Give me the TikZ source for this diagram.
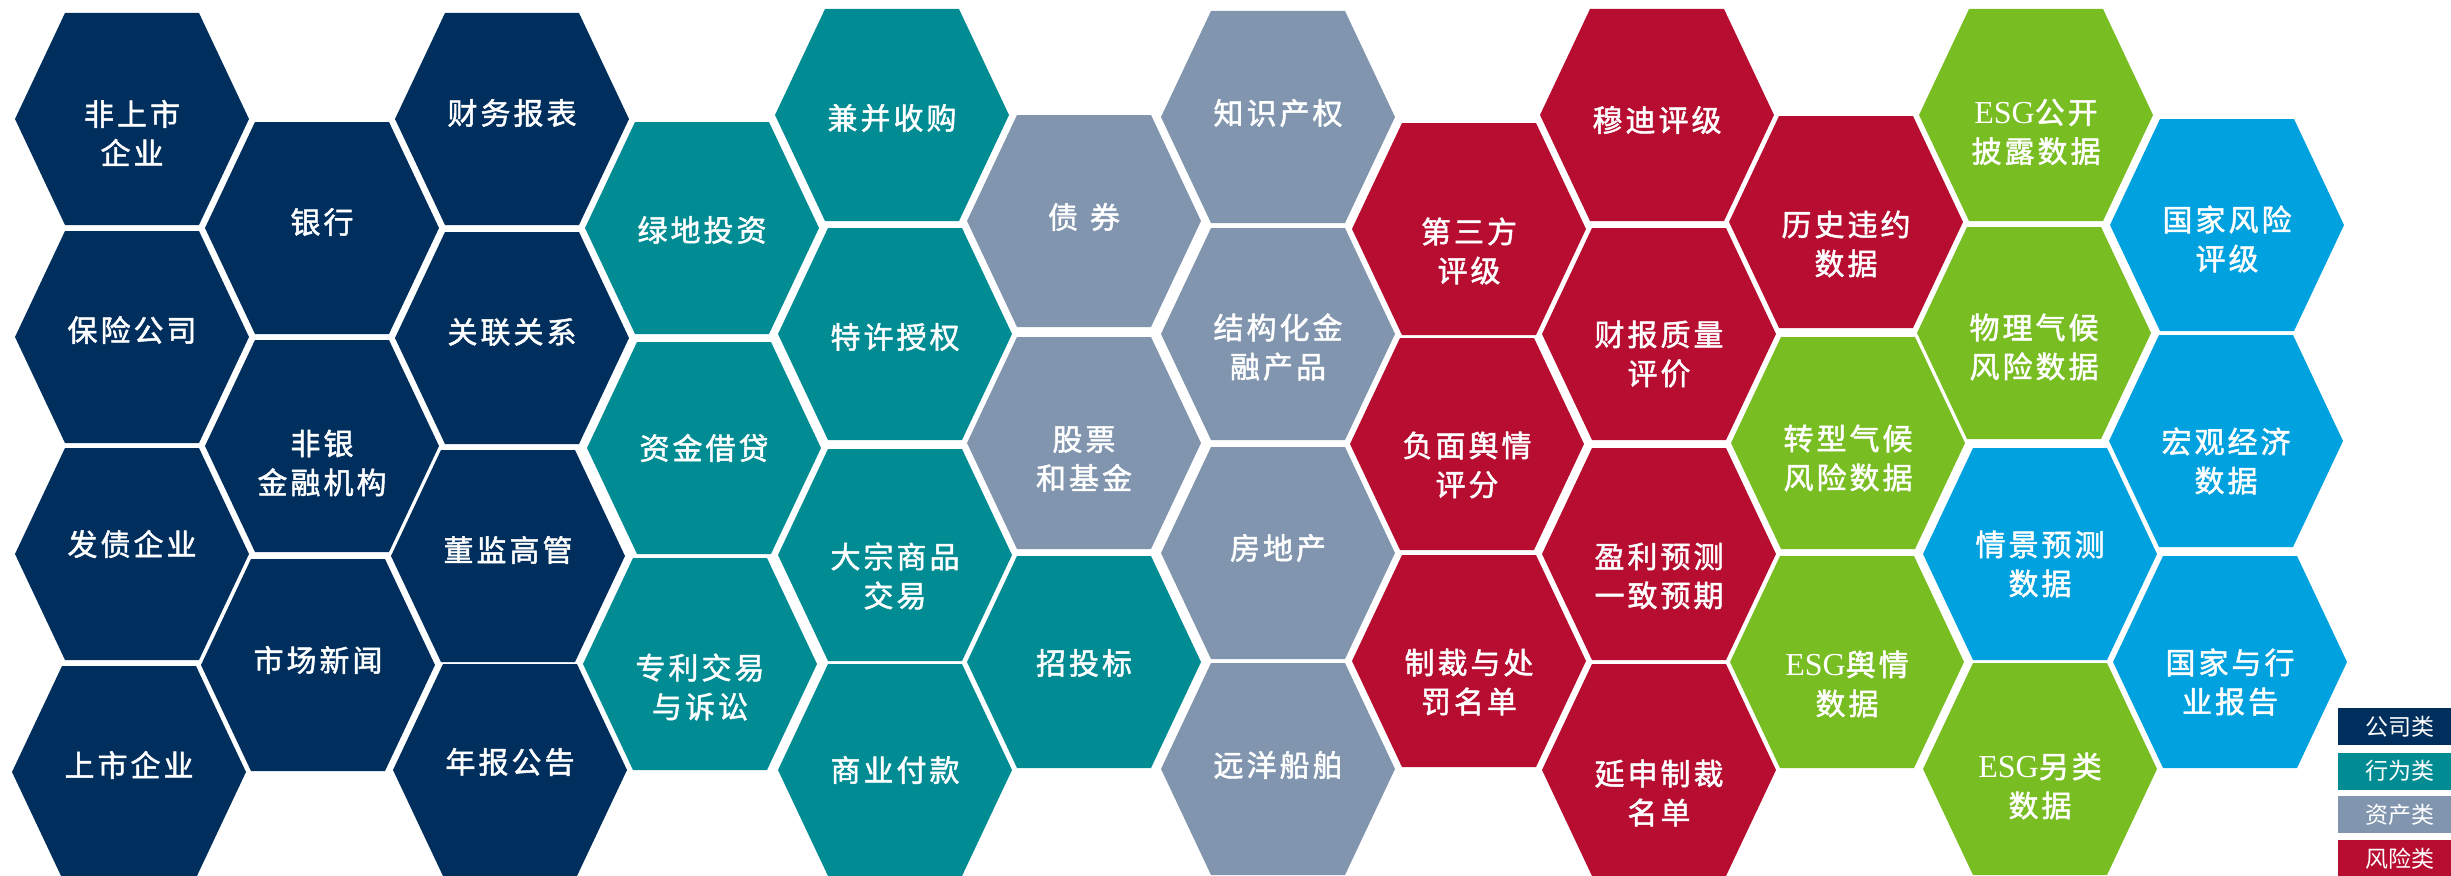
\documentclass[tikz,border=0pt]{standalone}
\usepackage{fontspec}
\newfontfamily\cjk[LetterSpace=10,FakeBold=1.6]{Noto Sans CJK SC}
\newfontfamily\cjkleg{Noto Sans CJK SC}
\newfontfamily\esgf{Liberation Serif}
\definecolor{comp}{HTML}{002F5E}
\definecolor{behav}{HTML}{018C94}
\definecolor{asset}{HTML}{8196AE}
\definecolor{risk}{HTML}{B70D31}
\definecolor{esgc}{HTML}{78BD22}
\definecolor{macroc}{HTML}{00A1DF}
\tikzset{
  lbl/.style={text=white, font=\cjk\fontsize{30}{39}\selectfont, align=center, inner sep=0pt},
  legbox/.style={text=white, font=\cjkleg\fontsize{23}{26}\selectfont, minimum width=113pt, minimum height=37pt, inner sep=0pt, anchor=west}
}
\newcommand\hexcell[6]{%
  \fill[#4] (#2,#3) ++(-117,0) -- ++(50,-106) -- ++(134,0) -- ++(50,106) -- ++(-50,106) -- ++(-134,0) -- cycle;
  \node[lbl] (#1) at (#2,#5) {#6};
}
\newcommand\ESG{{\esgf\fontsize{32}{39}\selectfont ESG}}
\begin{document}
\begin{tikzpicture}[x=1pt,y=-1pt]
\useasboundingbox (0,0) rectangle (2451,875);
\clip (0,0) rectangle (2451,875);
% company
\hexcell{fsq}{132}{119}{comp}{133}{非上市\\企业}
\hexcell{bank}{322}{228}{comp}{222}{银行}
\hexcell{ins}{132}{337}{comp}{330}{保险公司}
\hexcell{nbank}{322}{446}{comp}{463}{非银\\金融机构}
\hexcell{bondiss}{132}{554}{comp}{544}{发债企业}
\hexcell{news}{318}{665}{comp}{660}{市场新闻}
\hexcell{listed}{129}{772}{comp}{765}{上市企业}
\hexcell{fin}{512}{119}{comp}{113}{财务报表}
\hexcell{rel}{512}{338}{comp}{332}{关联关系}
\hexcell{dir}{508}{556}{comp}{550}{董监高管}
\hexcell{ann}{510}{770}{comp}{762}{年报公告}
% behaviour
\hexcell{greeninv}{702}{228}{behav}{230}{绿地投资}
\hexcell{loan}{704}{448}{behav}{448}{资金借贷}
\hexcell{patent}{700}{664}{behav}{687}{专利交易\\与诉讼}
\hexcell{ma}{892}{115}{behav}{118}{兼并收购}
\hexcell{lic}{895}{334}{behav}{337}{特许授权}
\hexcell{comm}{895}{555}{behav}{576}{大宗商品\\交易}
\hexcell{pay}{895}{770}{behav}{770}{商业付款}
\hexcell{bid}{1084}{662}{behav}{663}{招投标}
% asset
\hexcell{bond}{1084}{221}{asset}{217}{债\hspace{0.4em}券}
\hexcell{stock}{1084}{443}{asset}{459}{股票\\和基金}
\hexcell{ip}{1278}{117}{asset}{113}{知识产权}
\hexcell{sfp}{1278}{334}{asset}{347}{结构化金\\融产品}
\hexcell{re}{1278}{553}{asset}{548}{房地产}
\hexcell{ship}{1278}{769}{asset}{765}{远洋船舶}
% risk
\hexcell{third}{1469}{229}{risk}{251}{第三方\\评级}
\hexcell{neg}{1467}{444}{risk}{465}{负面舆情\\评分}
\hexcell{sanc}{1469}{661}{risk}{682}{制裁与处\\罚名单}
\hexcell{moody}{1657}{115}{risk}{120}{穆迪评级}
\hexcell{frq}{1659}{334}{risk}{354}{财报质量\\评价}
\hexcell{eps}{1659}{554}{risk}{576}{盈利预测\\一致预期}
\hexcell{ext}{1659}{770}{risk}{793}{延申制裁\\名单}
\hexcell{hist}{1846}{222}{risk}{244}{历史违约\\数据}
% esg
\hexcell{trans}{1848}{443}{esgc}{458}{转型气候\\风险数据}
\hexcell{esgs}{1847}{662}{esgc}{684}{\ESG 舆情\\数据}
\hexcell{esgd}{2036}{115}{esgc}{132}{\ESG 公开\\披露数据}
\hexcell{phys}{2034}{333}{esgc}{347}{物理气候\\风险数据}
\hexcell{esga}{2040}{769}{esgc}{786}{\ESG 另类\\数据}
% macro
\hexcell{scen}{2040}{554}{macroc}{564}{情景预测\\数据}
\hexcell{cr}{2227}{225}{macroc}{239}{国家风险\\评级}
\hexcell{macro}{2226}{441}{macroc}{461}{宏观经济\\数据}
\hexcell{rep}{2230}{662}{macroc}{682}{国家与行\\业报告}
% legend
\node[legbox, fill=comp] (lg1) at (2338,726.5) {\hspace{10pt}公司类};
\node[legbox, fill=behav] (lg2) at (2338,771) {\hspace{10pt}行为类};
\node[legbox, fill=asset] (lg3) at (2338,814.5) {\hspace{10pt}资产类};
\node[legbox, fill=risk] (lg4) at (2338,858.5) {\hspace{10pt}风险类};
\end{tikzpicture}
\end{document}
